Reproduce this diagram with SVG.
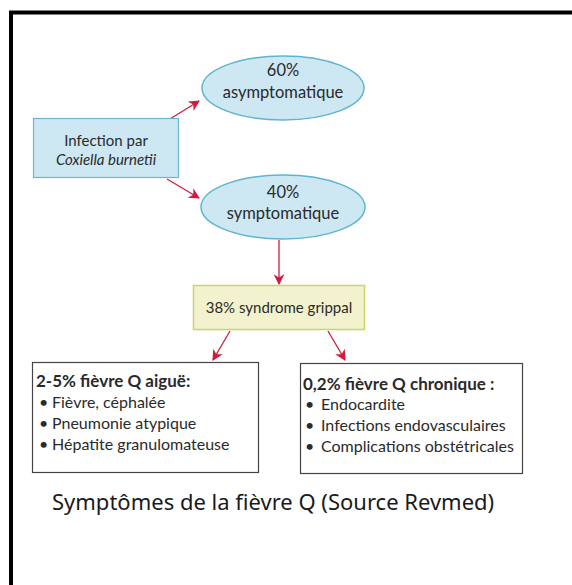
<svg xmlns="http://www.w3.org/2000/svg" width="572" height="585" viewBox="0 0 572 585">
<style>
.t{font-family:Lato,"Open Sans","Liberation Sans",sans-serif;fill:#2a2a2a;font-size:15px}
.c{text-anchor:middle}
.e{font-size:16.5px}
.l{font-size:16px}
.b{font-weight:bold;font-size:17px}
.ell{fill:#cde7f3;stroke:#5fb4cf;stroke-width:1.5}
.con{stroke:#d21a3c;stroke-width:1.3;fill:none;marker-end:url(#ah)}
.cap{font-family:"Noto Sans","IBM Plex Sans","Liberation Sans",sans-serif;font-size:22px;fill:#1a1a1a}
</style>
<defs>
<marker id="ah" viewBox="0 0 10 10" refX="9" refY="5" markerWidth="11" markerHeight="11" orient="auto" markerUnits="userSpaceOnUse">
<path d="M0,0 L10,5 L0,10 L3,5 Z" fill="#d21a3c"/>
</marker>
</defs>
<rect width="572" height="585" fill="#fff"/>
<path d="M11,585 V12.5 H572" fill="none" stroke="#000" stroke-width="4"/>
<g id="connectors">
<line class="con" x1="170" y1="119" x2="199" y2="101"/>
<line class="con" x1="167" y1="179" x2="199" y2="198"/>
<line class="con" x1="279" y1="240" x2="279" y2="284"/>
<line class="con" x1="230" y1="331" x2="213" y2="360"/>
<line class="con" x1="328" y1="331" x2="345" y2="360"/>
</g>
<g id="infection">
<rect x="33.5" y="118.5" width="145" height="59" fill="#cde7f3" stroke="#6cb6d0" stroke-width="1.2"/>
<text class="t c" x="106" y="146">Infection par</text>
<text class="t c" x="106" y="165" font-size="14" font-style="italic">Coxiella burnetii</text>
</g>
<g id="asympt">
<ellipse class="ell" cx="283" cy="88" rx="81" ry="32"/>
<text class="t c e" x="283" y="76">60%</text>
<text class="t c e" x="283" y="98">asymptomatique</text>
</g>
<g id="sympt">
<ellipse class="ell" cx="283" cy="207" rx="82" ry="32"/>
<text class="t c e" x="283" y="198">40%</text>
<text class="t c e" x="283" y="219">symptomatique</text>
</g>
<g id="grippal">
<rect x="193.5" y="285.5" width="171" height="44" fill="#f3f2cf" stroke="#c9d46a" stroke-width="1.5"/>
<text class="t c" x="279" y="313" font-size="16">38% syndrome grippal</text>
</g>
<g id="aigue">
<rect x="32.5" y="362.5" width="226" height="110" fill="#fff" stroke="#444" stroke-width="1.2"/>
<text class="t b" x="36" y="387">2-5% fièvre Q aiguë:</text>
<text class="t l" x="39" y="408">•</text><text class="t l" x="52" y="408">Fièvre, céphalée</text>
<text class="t l" x="39" y="429">•</text><text class="t l" x="52" y="429">Pneumonie atypique</text>
<text class="t l" x="39" y="450">•</text><text class="t l" x="52" y="450">Hépatite granulomateuse</text>
</g>
<g id="chronique">
<rect x="300.5" y="363.5" width="222" height="110" fill="#fff" stroke="#444" stroke-width="1.2"/>
<text class="t b" x="303" y="390">0,2% fièvre Q chronique :</text>
<text class="t l" x="305" y="410">•</text><text class="t l" x="321" y="410">Endocardite</text>
<text class="t l" x="305" y="431">•</text><text class="t l" x="321" y="431">Infections endovasculaires</text>
<text class="t l" x="305" y="452">•</text><text class="t l" x="321" y="452">Complications obstétricales</text>
</g>
<text class="cap" x="52" y="510">Symptômes de la fièvre Q (Source Revmed)</text>
</svg>
